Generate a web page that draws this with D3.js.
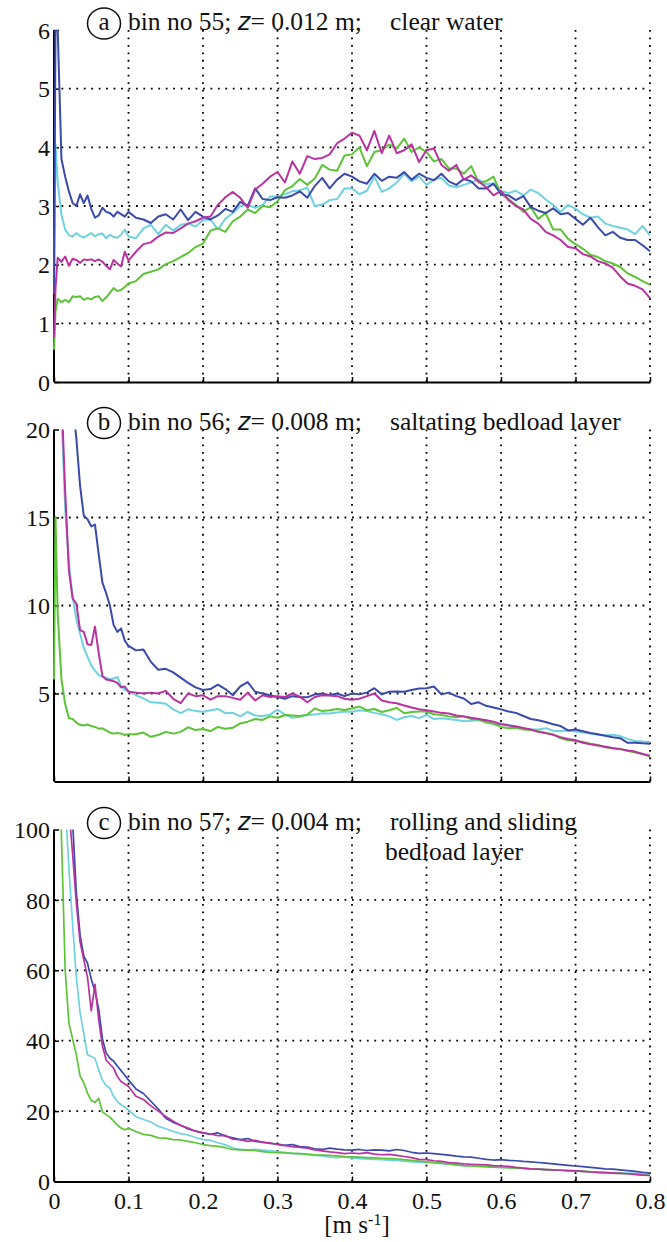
<!DOCTYPE html>
<meta charset="utf-8">
<script src="https://d3js.org/d3.v7.min.js"></script>
<html>
<style>
body { margin: 0; background: #fff; }
text { font-family: "Liberation Serif", serif; fill: #111; }
</style>
<body>
<div id="chart"></div>
</body>
<script>
// shared velocity axis [m s-1]
var xs = [0, 0.002, 0.005, 0.01, 0.015, 0.02, 0.025, 0.03, 0.035, 0.04, 0.045, 0.05, 0.055, 0.06, 0.065, 0.07, 0.075, 0.08, 0.085, 0.09, 0.095, 0.1,
  0.11, 0.12, 0.13, 0.14, 0.15, 0.16, 0.17, 0.18, 0.19, 0.2,
  0.21, 0.22, 0.23, 0.24, 0.25, 0.26, 0.27, 0.28, 0.29, 0.3,
  0.31, 0.32, 0.33, 0.34, 0.35, 0.36, 0.37, 0.38, 0.39, 0.4,
  0.41, 0.42, 0.43, 0.44, 0.45, 0.46, 0.47, 0.48, 0.49, 0.5,
  0.51, 0.52, 0.53, 0.54, 0.55, 0.56, 0.57, 0.58, 0.59, 0.6,
  0.61, 0.62, 0.63, 0.64, 0.65, 0.66, 0.67, 0.68, 0.69, 0.7,
  0.71, 0.72, 0.73, 0.74, 0.75, 0.76, 0.77, 0.78, 0.79, 0.8];

var xTicks = [0, 0.1, 0.2, 0.3, 0.4, 0.5, 0.6, 0.7, 0.8];
var xTickLabels = ["0", "0.1", "0.2", "0.3", "0.4", "0.5", "0.6", "0.7", "0.8"];

// panel a: bin no 55
var aTicks = [0, 1, 2, 3, 4, 5, 6];
var aBlue = [1.5, 6.0, 6.0, 3.8, 3.5, 3.25, 3.05, 3.0, 3.2, 3.05, 3.18, 2.95, 2.8, 2.84, 2.97, 2.9, 2.88, 2.82, 2.9, 2.86, 2.82, 2.9,
  2.8, 2.77, 2.71, 2.82, 2.86, 2.77, 2.94, 2.76, 2.9, 2.82,
  2.77, 2.84, 2.95, 2.9, 3.07, 3.0, 3.3, 3.12, 3.1, 3.15,
  3.14, 3.18, 3.25, 3.14, 3.34, 3.48, 3.3, 3.45, 3.55, 3.5,
  3.42, 3.38, 3.55, 3.43, 3.5, 3.48, 3.58, 3.45, 3.55, 3.48,
  3.44, 3.55, 3.42, 3.36, 3.46, 3.42, 3.3, 3.3, 3.38, 3.2,
  3.18, 3.1, 3.17, 2.98, 2.92, 2.88, 2.96, 2.86, 2.88, 2.78,
  2.68, 2.8, 2.64, 2.5, 2.56, 2.46, 2.42, 2.42, 2.33, 2.23];
var aCyan = [1.5, 4.05, 3.4, 2.85, 2.6, 2.5, 2.48, 2.54, 2.49, 2.46, 2.5, 2.54, 2.48, 2.52, 2.53, 2.45, 2.51, 2.47, 2.46, 2.51, 2.6, 2.48,
  2.45, 2.62, 2.68, 2.52, 2.68, 2.58, 2.68, 2.7, 2.65, 2.76,
  2.77, 2.6, 2.78, 2.88, 3.0, 3.02, 2.97, 3.02, 3.16, 3.16,
  3.2, 3.25, 3.27, 3.31, 3.0, 3.02, 3.1, 3.12, 3.3, 3.3,
  3.2, 3.26, 3.5, 3.24, 3.3, 3.4, 3.55, 3.42, 3.5, 3.36,
  3.45, 3.48, 3.35, 3.32, 3.36, 3.4, 3.45, 3.37, 3.39, 3.25,
  3.22, 3.26, 3.18, 3.28, 3.22, 3.11, 3.02, 2.9, 3.02, 2.95,
  2.86, 2.8, 2.82, 2.7, 2.66, 2.63, 2.6, 2.52, 2.66, 2.5];
var aMagenta = [0.75, 1.6, 2.12, 2.05, 2.14, 1.98, 2.1, 2.08, 2.03, 2.09, 2.08, 2.09, 2.06, 2.09, 2.05, 1.98, 1.92, 2.08, 2.02, 1.97, 2.22, 2.07,
  2.22, 2.35, 2.38, 2.48, 2.55, 2.54, 2.62, 2.7, 2.74, 2.8,
  2.82, 3.02, 3.15, 3.24, 3.14, 2.97, 3.28, 3.38, 3.5, 3.58,
  3.4, 3.76, 3.55, 3.85, 3.8, 3.82, 3.88, 4.07, 4.15, 4.25,
  4.2, 3.95, 4.28, 3.9, 4.2, 3.9, 3.95, 4.05, 3.75, 3.95,
  3.98, 3.7, 3.6, 3.7, 3.45, 3.52, 3.42, 3.32, 3.18, 3.26,
  3.1, 3.0, 2.94, 2.78, 2.7, 2.56, 2.5, 2.42, 2.3, 2.28,
  2.18, 2.14, 2.06, 2.02, 1.95, 1.8, 1.68, 1.64, 1.58, 1.43];
var aGreen = [0.55, 1.2, 1.42, 1.36, 1.4, 1.36, 1.46, 1.45, 1.46, 1.4, 1.43, 1.41, 1.45, 1.46, 1.38, 1.44, 1.52, 1.6, 1.55, 1.57, 1.62, 1.68,
  1.72, 1.84, 1.88, 1.92, 2.01, 2.06, 2.13, 2.2, 2.3, 2.36,
  2.58, 2.62, 2.56, 2.74, 2.82, 2.94, 2.88, 3.0, 2.98, 3.08,
  3.27, 3.34, 3.46, 3.36, 3.47, 3.7, 3.62, 3.6, 3.86, 3.88,
  4.0, 3.68, 3.92, 3.95, 4.05, 3.98, 4.15, 3.92, 4.0, 3.92,
  3.76, 3.8, 3.64, 3.64, 3.55, 3.68, 3.4, 3.42, 3.5, 3.2,
  3.12, 3.02, 2.9, 2.98, 2.78, 2.88, 2.6, 2.6, 2.44, 2.35,
  2.27, 2.17, 2.13, 2.06, 2.02, 1.96, 1.85, 1.79, 1.72, 1.66];

// panel b: bin no 56
var bTicks = [5, 10, 15, 20];
var bBlue = [60, 50, 42, 34, 28, 24, 21.5, 19.5, 16.8, 15.1, 14.9, 14.5, 14.6, 12.9, 11.3, 10.7, 10.0, 8.9, 8.5, 8.7, 8.0, 7.7,
  7.45, 7.5, 6.8, 6.35, 6.4, 6.2, 5.9, 5.6, 5.35, 5.2,
  5.25, 5.5, 5.25, 4.9, 5.4, 5.65, 5.1, 5.0, 4.9, 4.8,
  4.7, 4.85, 4.8, 4.78, 4.95, 5.0, 4.9, 5.0, 4.85, 5.0,
  4.95, 5.05, 5.3, 4.95, 5.1, 5.12, 5.1, 5.2, 5.28, 5.3,
  5.4, 4.95, 5.05, 4.85, 4.72, 4.4, 4.5, 4.3, 4.2, 4.1,
  3.98, 3.9, 3.72, 3.55, 3.48, 3.38, 3.25, 3.15, 2.9, 2.95,
  2.86, 2.76, 2.68, 2.6, 2.52, 2.46, 2.2, 2.2, 2.17, 2.15];
var bCyan = [40, 32, 27, 21, 15.5, 12.4, 10.5, 9.2, 8.4, 7.6, 7.1, 6.6, 6.3, 6.05, 5.95, 5.9, 5.8, 5.85, 5.95, 5.45, 5.2, 5.15,
  4.9, 4.72, 4.5, 4.48, 4.42, 4.1, 3.88, 4.1, 4.0, 3.96,
  4.05, 4.12, 3.88, 3.9, 3.7, 3.95, 3.75, 3.72, 3.8, 4.08,
  3.8, 3.62, 3.68, 3.78, 3.8, 3.88, 3.86, 3.92, 3.98, 3.96,
  4.05, 4.0, 3.9, 3.82, 3.7, 3.5, 3.65, 3.72, 3.6, 3.78,
  3.55, 3.6, 3.55, 3.5, 3.42, 3.45, 3.5, 3.48, 3.25, 3.3,
  3.22, 3.13, 3.0, 2.95, 2.96, 3.03, 2.88, 2.86, 2.9, 2.84,
  2.78, 2.72, 2.66, 2.62, 2.65, 2.58, 2.42, 2.3, 2.27, 2.25];
var bMagenta = [45, 38, 30, 22, 16.5, 12.0, 10.4, 10.1, 8.6, 8.5, 7.8, 7.75, 8.8, 7.3, 6.0, 5.8, 5.75, 5.7, 5.6, 5.35, 5.4, 5.1,
  5.05, 5.0, 5.05, 5.0, 5.15, 4.7, 4.45, 5.0, 4.85, 4.9,
  4.65, 4.85, 4.85, 4.75, 4.65, 5.05, 4.6, 4.9, 4.8, 4.85,
  4.8, 5.0, 4.82, 4.5, 4.8, 4.9, 4.88, 4.85, 4.7, 4.65,
  4.7, 4.85, 5.0, 4.6, 4.5, 4.45, 4.32, 4.2, 4.1, 4.05,
  3.98, 3.9, 3.86, 3.75, 3.7, 3.62, 3.55, 3.48, 3.4, 3.25,
  3.18, 3.12, 3.04, 2.96, 2.82, 2.75, 2.65, 2.52, 2.42, 2.34,
  2.2, 2.12, 2.05, 1.98, 1.9, 1.84, 1.76, 1.7, 1.56, 1.46];
var bGreen = [5.8, 15.0, 9.5, 5.8, 4.4, 3.6, 3.55, 3.35, 3.22, 3.18, 3.24, 3.15, 3.1, 3.0, 3.02, 2.9, 2.78, 2.72, 2.76, 2.72, 2.64, 2.68,
  2.68, 2.78, 2.54, 2.64, 2.82, 2.72, 2.82, 3.08, 2.92, 2.98,
  2.86, 3.1, 3.0, 3.05, 3.3, 3.4, 3.55, 3.5, 3.7, 3.62,
  3.78, 3.75, 3.72, 3.8, 4.15, 4.0, 4.05, 4.12, 4.06, 4.15,
  4.26, 4.05, 4.12, 3.95, 4.05, 4.18, 3.88, 3.95, 3.98, 3.98,
  3.82, 3.78, 3.7, 3.65, 3.7, 3.55, 3.52, 3.35, 3.28, 3.1,
  3.03, 3.05, 2.96, 2.92, 2.85, 2.76, 2.68, 2.45, 2.34, 2.3,
  2.24, 2.14, 2.08, 1.95, 1.88, 1.85, 1.75, 1.65, 1.56, 1.43];

// panel c: bin no 57
var cTicks = [0, 20, 40, 60, 80, 100];
var cBlue = [300, 260, 220, 180, 150, 125, 102, 82, 70, 64, 62, 57.5, 54, 49, 40.5, 36.5, 35, 34.2, 32.8, 31.5, 30.2, 28.8,
  26.3, 25, 22.8, 20.6, 18, 16.8, 16, 14.9, 14.3, 13.8,
  13.4, 13.8, 12.9, 12.4, 11.9, 12.2, 11.4, 11.2, 10.8, 10.6,
  10.3, 10.5, 9.9, 9.8, 9.3, 9.1, 9.5, 9.2, 9.0, 8.9,
  9.1, 8.8, 9.0, 8.9, 8.7, 9.1, 8.8, 8.3, 8.0, 8.1,
  7.9, 7.7, 7.5, 7.2, 7.0, 6.9, 6.6, 6.3, 6.1, 6.2,
  6.0, 5.9, 5.7, 5.6, 5.4, 5.2, 5.0, 4.8, 4.6, 4.4,
  4.2, 4.0, 3.8, 3.6, 3.5, 3.3, 3.1, 2.9, 2.6, 2.4];
var cCyan = [220, 190, 160, 130, 108, 89, 73, 58, 48, 42, 36, 35.5, 35, 31.7, 28.8, 27.3, 26.5, 24.2, 22.7, 21.8, 21.1, 20.3,
  18.4, 17.6, 16.9, 15.7, 15.0, 14.2, 13.6, 13.2, 12.5, 11.9,
  11.7, 11.0, 10.4, 9.6, 9.1, 9.0, 9.1, 8.9, 8.7, 8.5,
  8.3, 8.0, 7.9, 7.6, 7.4, 7.3, 6.9, 6.8, 7.0, 6.7,
  6.5, 6.4, 6.3, 6.2, 6.1, 6.0, 5.8, 5.6, 5.5, 5.4,
  5.3, 5.1, 4.9, 4.7, 4.5, 4.4, 4.3, 4.2, 4.1, 4.0,
  3.9, 3.8, 3.7, 3.6, 3.5, 3.4, 3.3, 3.2, 3.1, 3.0,
  2.9, 2.7, 2.6, 2.5, 2.5, 2.4, 2.4, 2.3, 2.1, 2.0];
var cMagenta = [250, 220, 185, 150, 125, 106, 93, 79, 68, 63, 58, 48.5, 56, 46, 38.5, 34.5, 33.3, 32.2, 29.8, 28.4, 27.7, 27,
  24.2, 23.3, 21.5, 20, 18.5, 17.1, 15.9, 15.2, 14.3, 13.8,
  13.5, 13.0, 13.1, 12, 11.9, 11.4, 11.7, 11.1, 11.0, 10.5,
  10.2, 9.9, 9.7, 9.5, 9.0, 8.7, 8.4, 8.2, 7.9, 8.1,
  7.9, 8.2, 7.8, 7.6, 7.7, 7.4, 7.1, 6.8, 6.3, 6.2,
  5.9, 5.7, 5.4, 5.2, 5.0, 4.9, 4.8, 4.7, 4.5, 4.4,
  4.3, 4.0, 3.8, 3.6, 3.5, 3.4, 3.3, 3.2, 3.1, 3.0,
  2.9, 2.7, 2.6, 2.5, 2.4, 2.3, 2.2, 2.0, 1.8, 1.7];
var cGreen = [180, 160, 135, 98, 60, 45, 40.5, 36, 30, 28, 25.1, 23, 22.5, 23.6, 19.8, 19.0, 18.3, 17.2, 16, 15.2, 14.7, 15.1,
  14.2, 13.4, 13.1, 12.4, 12.3, 11.9, 11.8, 11.4, 11.0, 10.5,
  10.2, 10.0, 9.6, 9.1, 9.0, 8.9, 8.8, 8.5, 8.3, 8.2,
  8.1, 8.0, 7.9, 7.8, 7.6, 7.5, 7.4, 7.3, 7.1, 7.0,
  6.9, 6.8, 6.7, 6.6, 6.5, 6.4, 6.2, 6.0, 5.8, 5.6,
  5.4, 5.2, 5.0, 4.7, 4.5, 4.4, 4.3, 4.2, 4.1, 4.0,
  3.9, 3.8, 3.7, 3.6, 3.5, 3.4, 3.3, 3.2, 3.1, 3.0,
  2.9, 2.8, 2.6, 2.5, 2.4, 2.3, 2.2, 2.0, 1.9, 1.7];

var colors = { blue: "#3a4aab", cyan: "#6fd2df", magenta: "#b8339f", green: "#5cc436" };

// layout
var width = 667, height = 1242;
var plotLeft = 54, plotRight = 650, plotHeight = 352;

var svg = d3.select("#chart")
    .append("svg")
    .attr("width", width)
    .attr("height", height);

var x = d3.scaleLinear().domain([0, 0.8]).range([plotLeft, plotRight]);

var panels = [
  { id: "a", top: 30, domain: [0, 6], ticks: aTicks, lw: 2,
    series: [[aCyan, "cyan"], [aGreen, "green"], [aBlue, "blue"], [aMagenta, "magenta"]],
    title: "bin no 55; ", title2: "= 0.012 m;", note: ["clear water"] },
  { id: "b", top: 429.5, domain: [0, 20], ticks: bTicks, lw: 2,
    series: [[bCyan, "cyan"], [bGreen, "green"], [bBlue, "blue"], [bMagenta, "magenta"]],
    title: "bin no 56; ", title2: "= 0.008 m;", note: ["saltating bedload layer"] },
  { id: "c", top: 829.5, domain: [0, 100], ticks: cTicks, lw: 1.7,
    series: [[cCyan, "cyan"], [cGreen, "green"], [cBlue, "blue"], [cMagenta, "magenta"]],
    title: "bin no 57; ", title2: "= 0.004 m;", note: ["rolling and sliding", "bedload layer"] }
];

panels.forEach(function (p, i) {
  var bottom = p.top + plotHeight;
  var y = d3.scaleLinear().domain(p.domain).range([bottom, p.top]);
  var g = svg.append("g").attr("class", "panel-" + p.id);

  // dotted grid
  var dash = "1.8,5.65";
  g.selectAll(".vgrid")
    .data(xTicks.slice(1))
    .enter().append("line")
    .attr("x1", function (d) { return x(d); })
    .attr("x2", function (d) { return x(d); })
    .attr("y1", bottom)
    .attr("y2", p.top)
    .attr("stroke", "#000")
    .attr("stroke-width", 1.8)
    .attr("stroke-dasharray", dash);

  g.selectAll(".hgrid")
    .data(p.ticks.filter(function (d) { return d > p.domain[0] && d < p.domain[1]; }))
    .enter().append("line")
    .attr("x1", plotLeft)
    .attr("x2", plotRight)
    .attr("y1", function (d) { return y(d); })
    .attr("y2", function (d) { return y(d); })
    .attr("stroke", "#000")
    .attr("stroke-width", 1.8)
    .attr("stroke-dasharray", dash);

  // axes
  var xAxis = d3.axisBottom(x)
      .tickValues(xTicks)
      .tickSizeInner(-5)
      .tickSizeOuter(0)
      .tickPadding(10)
      .tickFormat(function (d, k) { return i === 2 ? xTickLabels[k] : ""; });
  var gx = g.append("g")
      .attr("transform", "translate(0," + bottom + ")")
      .call(xAxis);

  var yAxis = d3.axisLeft(y)
      .tickValues(p.ticks)
      .tickSizeInner(-5)
      .tickSizeOuter(0)
      .tickPadding(4)
      .tickFormat(d3.format("d"));
  var gy = g.append("g")
      .attr("transform", "translate(" + plotLeft + ",0)")
      .call(yAxis);
  // full-height left spine
  gy.select(".domain").attr("d", "M0," + bottom + "V" + p.top);

  [gx, gy].forEach(function (ax) {
    ax.select(".domain").attr("stroke", "#000").attr("stroke-width", 2);
    ax.selectAll(".tick line").attr("stroke", "#000").attr("stroke-width", 1.5);
    ax.selectAll(".tick text")
      .attr("fill", "#111")
      .style("font-family", "Liberation Serif")
      .style("font-size", "24px");
  });
  gx.selectAll(".tick text").attr("dy", "0.71em");
  gy.selectAll(".tick text").attr("dy", "0.34em");

  // curves
  g.append("clipPath")
    .attr("id", "clip-" + p.id)
    .append("rect")
    .attr("x", plotLeft - 2)
    .attr("y", p.top)
    .attr("width", plotRight - plotLeft + 4)
    .attr("height", plotHeight);

  var line = d3.line()
      .x(function (d, k) { return x(xs[k]); })
      .y(function (d) { return y(d); });

  g.append("g")
    .attr("clip-path", "url(#clip-" + p.id + ")")
    .selectAll("path")
    .data(p.series)
    .enter().append("path")
    .attr("d", function (s) { return line(s[0]); })
    .attr("fill", "none")
    .attr("stroke", function (s) { return colors[s[1]]; })
    .attr("stroke-width", p.lw)
    .attr("stroke-linejoin", "round");

  // panel heading
  var base = p.top;
  g.append("ellipse")
    .attr("cx", 104)
    .attr("cy", base - 6.5)
    .attr("rx", 16.5)
    .attr("ry", 15.5)
    .attr("fill", "#fff")
    .attr("stroke", "#111")
    .attr("stroke-width", 1.5);
  g.append("text")
    .attr("x", 104)
    .attr("y", base)
    .attr("text-anchor", "middle")
    .style("font-size", "25px")
    .text(p.id);

  var t = g.append("text")
      .attr("x", 128)
      .attr("y", base)
      .style("font-size", "25.5px");
  t.append("tspan").text(p.title);
  t.append("tspan")
    .style("font-family", "DejaVu Sans")
    .style("font-style", "italic")
    .style("font-size", "24px")
    .text("z");
  t.append("tspan").text(p.title2);

  p.note.forEach(function (n, k) {
    g.append("text")
      .attr("x", k === 0 ? 390 : 385)
      .attr("y", base + k * 30)
      .style("font-size", "25.5px")
      .text(n);
  });
});

// x axis unit label
var xl = svg.append("text")
    .attr("x", 357)
    .attr("y", 1233)
    .attr("text-anchor", "middle")
    .style("font-size", "25px");
xl.append("tspan").text("[m s");
xl.append("tspan").attr("dy", -8).style("font-size", "16px").text("-1");
xl.append("tspan").attr("dy", 8).text("]");
</script>
</html>
